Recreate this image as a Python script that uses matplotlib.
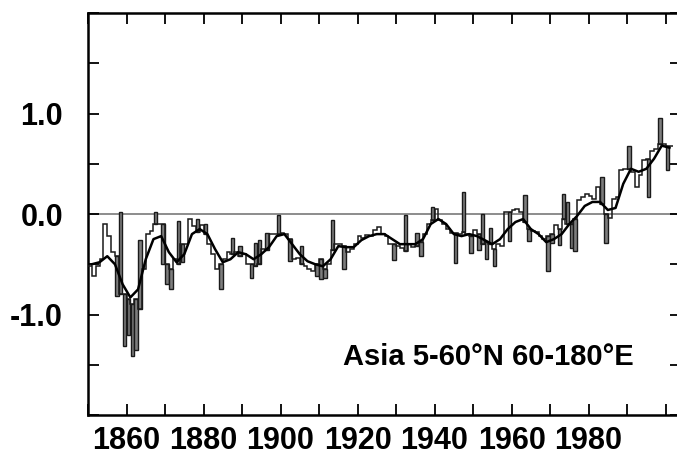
import numpy as np
import matplotlib
matplotlib.use("Agg")
import matplotlib.pyplot as plt
from matplotlib.ticker import MultipleLocator, FixedLocator

plt.rcParams["font.family"] = ["Liberation Sans", "DejaVu Sans"]

# annual series, one value per year 1850-2001 (step line)
years = np.arange(1850, 2002)
step_vals = [
    -0.52, -0.62, -0.52, -0.45, -0.10, -0.22, -0.38, -0.42, -0.80, -0.80,  # 1850s
    -0.85, -0.90, -0.85, -0.95, -0.55, -0.20, -0.17, -0.10, -0.10, -0.10,  # 1860s
    -0.50, -0.55, -0.45, -0.50, -0.30, -0.30, -0.05, -0.12, -0.18, -0.11,  # 1870s
    -0.20, -0.30, -0.40, -0.55, -0.50, -0.45, -0.38, -0.40, -0.38, -0.42,  # 1880s
    -0.40, -0.50, -0.50, -0.52, -0.50, -0.35, -0.36, -0.20, -0.20, -0.20,  # 1890s
    -0.19, -0.20, -0.25, -0.45, -0.44, -0.50, -0.52, -0.55, -0.57, -0.50,  # 1900s
    -0.45, -0.55, -0.50, -0.36, -0.30, -0.30, -0.32, -0.38, -0.35, -0.30,  # 1910s
    -0.22, -0.24, -0.21, -0.22, -0.16, -0.13, -0.20, -0.22, -0.30, -0.30,  # 1920s
    -0.32, -0.34, -0.37, -0.30, -0.33, -0.32, -0.28, -0.20, -0.10, -0.06,  # 1930s
    0.05, -0.06, -0.10, -0.15, -0.19, -0.19, -0.20, -0.18, -0.20, -0.22,  # 1940s
    -0.16, -0.20, -0.30, -0.28, -0.30, -0.35, -0.30, -0.32, 0.02, 0.02,  # 1950s
    0.04, 0.05, 0.02, -0.08, -0.15, -0.17, -0.18, -0.22, -0.25, -0.22,  # 1960s
    -0.20, -0.11, -0.15, -0.05, -0.10, -0.10, -0.05, 0.14, 0.17, 0.20,  # 1970s
    0.18, 0.15, 0.27, 0.10, 0.00, -0.04, 0.15, 0.17, 0.44, 0.45,  # 1980s
    0.45, 0.42, 0.27, 0.39, 0.54, 0.55, 0.63, 0.65, 0.70, 0.70,  # 1990s
    0.68, 0.68,  # 2000s
]

# far end of the grey bar for each year (nan = no bar)
nan = np.nan
bar_vals = [
    nan, nan, nan, nan, nan, nan, nan, -0.82, 0.02, -1.31,
    -1.20, -1.41, -1.35, -0.26, nan, nan, nan, 0.02, nan, -0.50,
    -0.70, -0.75, nan, -0.07, -0.48, nan, nan, nan, -0.05, nan,
    -0.10, nan, nan, nan, -0.75, nan, nan, -0.24, nan, -0.32,
    nan, nan, -0.64, -0.29, -0.26, nan, -0.19, nan, nan, -0.01,
    nan, nan, -0.47, nan, nan, -0.32, nan, nan, nan, -0.62,
    -0.65, -0.64, nan, -0.06, nan, nan, -0.55, nan, nan, nan,
    nan, nan, nan, nan, nan, nan, nan, nan, nan, -0.46,
    nan, nan, -0.01, nan, nan, -0.19, -0.42, nan, nan, 0.07,
    nan, nan, nan, nan, nan, -0.49, nan, 0.22, nan, -0.39,
    nan, -0.36, 0.00, -0.45, -0.14, -0.52, nan, nan, nan, -0.27,
    nan, nan, nan, 0.19, -0.27, nan, nan, nan, nan, -0.57,
    -0.29, nan, -0.31, 0.20, 0.12, -0.34, -0.37, nan, nan, nan,
    nan, nan, nan, 0.37, -0.29, nan, nan, nan, nan, nan,
    0.68, nan, nan, nan, nan, 0.17, nan, nan, 0.96, nan,
    0.44, nan,
]

# smoothed curve
smooth_years = np.arange(1850, 2002, 2)
smooth_vals = [
    -0.50, -0.48, -0.42, -0.50, -0.70, -0.83, -0.75, -0.45, -0.25, -0.22,  # 1850-1868
    -0.38, -0.48, -0.40, -0.20, -0.15, -0.20, -0.35, -0.48, -0.45, -0.38,  # 1870-1888
    -0.40, -0.45, -0.40, -0.33, -0.22, -0.20, -0.30, -0.40, -0.47, -0.50,  # 1890-1908
    -0.52, -0.45, -0.32, -0.33, -0.33, -0.26, -0.22, -0.20, -0.20, -0.25,  # 1910-1928
    -0.30, -0.30, -0.30, -0.25, -0.10, -0.05, -0.10, -0.20, -0.22, -0.20,  # 1930-1948
    -0.22, -0.26, -0.30, -0.25, -0.15, -0.08, -0.05, -0.15, -0.20, -0.28,  # 1950-1968
    -0.25, -0.20, -0.10, -0.02, 0.08, 0.12, 0.12, 0.04, 0.06, 0.30,  # 1970-1988
    0.45, 0.42, 0.45, 0.55, 0.68, 0.66,  # 1990-2000
]

label = "Asia 5-60°N 60-180°E"

step_vals = np.array(step_vals)
bar_vals = np.array(bar_vals)

fig = plt.figure(figsize=(6.77, 4.57), dpi=100)
ax = fig.add_axes([88 / 677, 42 / 457, 593 / 677, 402 / 457])

ax.axhline(0, color="#6e6e6e", linewidth=1.1, zorder=1)

has_bar = ~np.isnan(bar_vals)
ax.bar(
    years[has_bar] + 0.5,
    bar_vals[has_bar] - step_vals[has_bar],
    bottom=step_vals[has_bar],
    width=0.9,
    color="#7d7d7d",
    edgecolor="#1a1a1a",
    linewidth=1.0,
    zorder=2,
)
ax.stairs(step_vals, np.append(years, years[-1] + 1), color="#1a1a1a",
          linewidth=1.1, baseline=None, zorder=3)
ax.plot(smooth_years + 1, smooth_vals, color="black", linewidth=1.8, zorder=4)

ax.text(1991.6, -1.5, label, ha="right", va="baseline", fontsize=21,
        fontweight="bold")

ax.set_xlim(1850, 2004)
ax.set_ylim(-2, 2)
ax.xaxis.set_major_locator(FixedLocator(np.arange(1860, 1981, 20)))
ax.xaxis.set_minor_locator(MultipleLocator(10))
ax.yaxis.set_major_locator(FixedLocator([-1.0, 0.0, 1.0]))
ax.yaxis.set_minor_locator(MultipleLocator(0.5))
ax.set_yticklabels(["-1.0", "0.0", "1.0"])
ax.tick_params(which="both", direction="in", length=8, width=1.3,
               top=True, right=True, labelsize=22)
ax.tick_params(axis="y", pad=18)
ax.tick_params(axis="x", pad=8)
for lab in ax.get_xticklabels() + ax.get_yticklabels():
    lab.set_fontweight("bold")
for sp in ax.spines.values():
    sp.set_linewidth(1.8)

fig.savefig("out.png", dpi=100)
